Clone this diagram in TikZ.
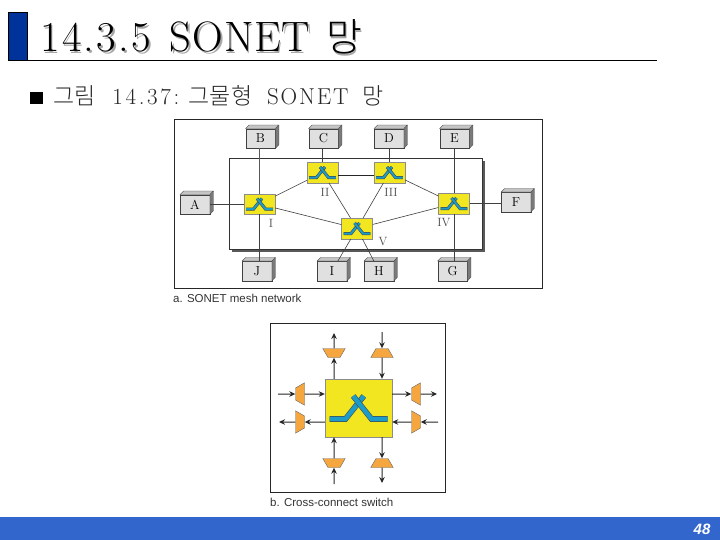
\documentclass[tikz,border=0pt]{standalone}
\usepackage{fontspec}
\setmainfont{Latin Modern Roman}
\setsansfont{Liberation Sans}
\newfontfamily\krfont{Noto Sans CJK KR Light}
\usetikzlibrary{arrows.meta,shapes.geometric}
\definecolor{slidebar}{HTML}{3366CC}
\definecolor{titleblue}{HTML}{003399}
\definecolor{swyellow}{HTML}{F2E620}
\definecolor{symblue}{HTML}{1E9CC8}
\definecolor{muxorange}{HTML}{F5A63F}
\definecolor{boxface}{HTML}{E0E0E0}
\definecolor{boxtop}{HTML}{C4C4C4}
\definecolor{boxside}{HTML}{7A7A7A}
\newcommand\titletext{{\addfontfeature{LetterSpace=5.5}14.3.5}\hspace{6pt} {\addfontfeature{LetterSpace=2}SONET}\hspace{16pt}{\krfont\fontsize{39}{39}\selectfont 망}}
\tikzset{
  termbox/.style={draw=black!75,fill=boxface,minimum width=29.5pt,minimum height=19.5pt,inner sep=0pt,font=\fontsize{13}{13}\selectfont},
  swbox/.style={draw=black!45,fill=swyellow,minimum width=31pt,minimum height=20.5pt,inner sep=0pt},
  swlabel/.style={text=black!70,inner sep=0pt,font=\fontsize{12}{12}\selectfont},
  link/.style={black!75,line width=0.6pt},
  caption/.style={text=black!80,inner sep=0pt,anchor=west,font=\sffamily\fontsize{11.5}{11.5}\selectfont},
  mux/.style={draw=black!60,fill=muxorange,shape=trapezium,trapezium angle=60,text width=12pt,text height=9pt,text depth=0pt,inner sep=0pt},
  flow/.style={black!85,line width=1pt,-{Stealth[length=6pt,width=5.5pt]}},
  pics/xsym/.style={code={
    \draw[black!75,line width=0.5pt,double=symblue,double distance=#1,miter limit=4] (-29,11) -- (-13,11) -- (5.3,-12);
    \draw[black!75,line width=0.5pt,double=symblue,double distance=#1,miter limit=4] (29,11) -- (13,11) -- (-5.3,-12);
  }},
}
\begin{document}
\begin{tikzpicture}[x=1pt,y=-1pt]
  \useasboundingbox (0,0) rectangle (720,540);
  \fill[slidebar] (0,517) rectangle (720,540);
  \node[text=white,inner sep=0pt,font=\sffamily\bfseries\itshape\fontsize{15}{15}\selectfont] (pagenum) at (702,529) {48};

  % Slide heading
  \fill[titleblue] (8,12) rectangle (27,60);
  \draw[black,line width=0.8pt] (8,12) rectangle (27,60);
  \draw[black,line width=0.8pt] (27,60) -- (657,60);
  \node[text=black!35,inner sep=0pt,anchor=base west,font=\fontsize{42.5}{42.5}\selectfont] (titleshadow) at (41.5,53.5) {\titletext};
  \node[inner sep=0pt,anchor=base west,font=\fontsize{42.5}{42.5}\selectfont] (title) at (40,52) {\titletext};
  \fill[black] (30,92) rectangle (43,104);
  \node[inner sep=0pt,anchor=base west,text=black!85,font=\fontsize{23}{23}\selectfont] (subtitle) at (53,105) {{\krfont\fontsize{23}{23}\selectfont 그림}\hspace{10pt} {\addfontfeature{LetterSpace=11.5}14.37:} {\krfont\fontsize{23}{23}\selectfont 그물형}\hspace{8pt} {\addfontfeature{LetterSpace=8}SONET}\hspace{7pt} {\krfont\fontsize{23}{23}\selectfont 망}};

  % Mesh network
  \draw[black!85,line width=0.7pt] (174,119.5) rectangle (542,288.5);
  \fill[black!65] (232,161) rectangle (485,252);
  \draw[black!80,fill=white,line width=0.6pt] (229,158) rectangle (482,249);
  \foreach \n/\x/\y/\t in {boxa/195/204.5/A, boxb/260.5/138.5/B, boxc/323.5/138.5/C, boxd/389/138.5/D,
                           boxe/454.5/138.5/E, boxf/516/202/F, boxg/452.5/271/G, boxh/379/271/H,
                           boxi/332/271/I, boxj/257/271/J} {
    \node[termbox] (\n) at (\x,\y) {\t};
    \fill[boxtop,draw=black!75,line width=0.3pt] (\n.north west) -- ++(3.5,-3.5) -- ++(29.5,0) -- (\n.north east) -- cycle;
    \fill[boxside,draw=black!75,line width=0.3pt] (\n.north east) -- ++(3.5,-3.5) -- ++(0,19.5) -- (\n.south east) -- cycle;
  }
  \foreach \n/\x/\y in {swi/259.5/204, swii/322.5/172.5, swiii/389.5/172.5, swiv/454/203.5, swv/357/228.5} {
    \node[swbox] (\n) at (\x,\y) {};
    \pic[scale=0.46] at (\n) {xsym=2.1pt};
  }
  \node[swlabel] (labi) at (271,223) {I};
  \node[swlabel] (labii) at (325,192) {II};
  \node[swlabel] (labiii) at (391,192) {III};
  \node[swlabel] (labiv) at (444,223) {IV};
  \node[swlabel] (labv) at (383,242) {V};

  \draw[black!65,line width=1.4pt] (swi |- boxb.south) -- (swi.north);
  \foreach \a/\b in {swii/boxc, swiii/boxd, swiv/boxe} {
    \draw[link] (\a |- \b.south) -- (\a.north);
  }
  \foreach \a/\b in {swi/boxj, swiv/boxg} {
    \draw[link] (\a.south) -- (\a |- \b.north);
  }
  \draw[link] (boxa.east |- swi) -- (swi.west);
  \draw[link] (swiv.east) -- (boxf.west |- swiv);
  \draw[black!85,line width=0.7pt] ([yshift=-3pt]swii.east) -- ([yshift=-3pt]swiii.west);
  \foreach \a/\b in {boxi/swv, boxh/swv, swi/swii, swi/swv, swii/swv, swiii/swv, swiii/swiv, swiv/swv} {
    \draw[link] (\a) -- (\b);
  }
  \node[caption] (capa) at (173,298) {a. SONET mesh network};

  % Cross-connect switch
  \draw[black!85,line width=0.7pt] (270,323.5) rectangle (445,492.5);
  \node[draw=black!45,fill=swyellow,minimum width=67pt,minimum height=58pt,inner sep=0pt] (xc) at (358.5,408) {};
  \pic at (xc) {xsym=4.6pt};
  \node[mux,rotate=180] (muxtl) at (334,353) {};
  \node[mux] (muxtr) at (382,353) {};
  \node[mux,rotate=90] (muxlt) at (300,394) {};
  \node[mux,rotate=-90] (muxlb) at (300,422) {};
  \node[mux,rotate=90] (muxrt) at (416,394) {};
  \node[mux,rotate=-90] (muxrb) at (416,422) {};
  \node[mux,rotate=180] (muxbl) at (334,463) {};
  \node[mux] (muxbr) at (382,463) {};
  \coordinate (endtl) at (334,333);
  \coordinate (endtr) at (382,332);
  \coordinate (endlt) at (278,394);
  \coordinate (endlb) at (279,422);
  \coordinate (endrt) at (437,394);
  \coordinate (endrb) at (438,422);
  \coordinate (endbl) at (334,484);
  \coordinate (endbr) at (382,483);
  \draw[flow] (xc.north -| muxtl) -- (muxtl.north);
  \draw[flow] (muxtl.south) -- (endtl);
  \draw[flow] (endtr) -- (muxtr.north);
  \draw[flow] (muxtr.south) -- (xc.north -| muxtr);
  \draw[flow] (endlt) -- (muxlt.north);
  \draw[flow] (muxlt.south) -- (xc.west |- muxlt);
  \draw[flow] (xc.west |- muxlb) -- (muxlb.north);
  \draw[flow] (muxlb.south) -- (endlb);
  \draw[flow] (xc.east |- muxrt) -- (muxrt.north);
  \draw[flow] (muxrt.south) -- (endrt);
  \draw[flow] (endrb) -- (muxrb.north);
  \draw[flow] (muxrb.south) -- (xc.east |- muxrb);
  \draw[flow] (endbl) -- (muxbl.north);
  \draw[flow] (muxbl.south) -- (xc.south -| muxbl);
  \draw[flow] (xc.south -| muxbr) -- (muxbr.north);
  \draw[flow] (muxbr.south) -- (endbr);
  \node[caption] (capb) at (270,502.5) {b. Cross-connect switch};
\end{tikzpicture}
\end{document}
